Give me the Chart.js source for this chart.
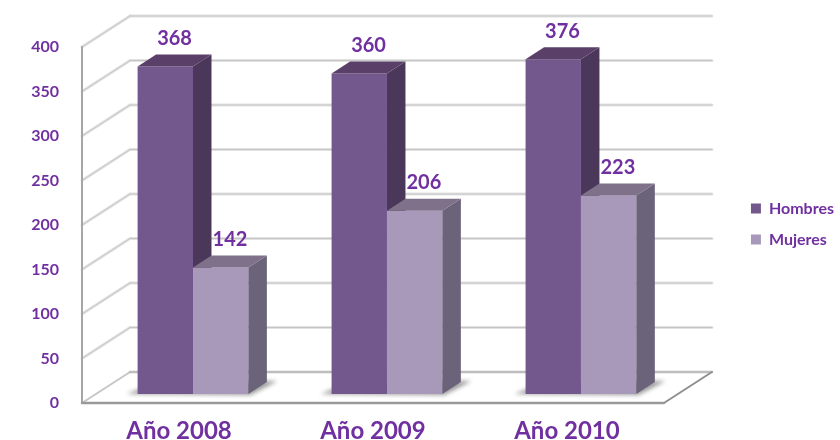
<!DOCTYPE html>
<html>
<head>
<meta charset="utf-8">
<style>html,body{margin:0;padding:0;background:#fff}canvas{display:block}</style>
<script src="https://cdn.jsdelivr.net/npm/chart.js@4/dist/chart.umd.min.js"></script>
</head>
<body>
<canvas id="c" width="840" height="440"></canvas>
<script>
const categories = ['Año 2008', 'Año 2009', 'Año 2010'];
const hombres = [368, 360, 376];
const mujeres = [142, 206, 223];
const FONT = 'Lato, "Open Sans", sans-serif';
const PURPLE = '#7030a0';
const WALL = {dx: 48, dy: -31};
const BAR_SHIFT = {dx: 14, dy: -9};
const BAR_DEPTH = {dx: 18.5, dy: -12};
const FACES = [
  {side: '#4a3759', top: '#5a4069'},
  {side: '#6b6379', top: '#7e7189'}
];
function line(ctx, x1, y1, x2, y2, color, w) {
  ctx.strokeStyle = color; ctx.lineWidth = w;
  ctx.beginPath(); ctx.moveTo(x1, y1); ctx.lineTo(x2, y2); ctx.stroke();
}
function poly(ctx, pts, fill) {
  ctx.fillStyle = fill; ctx.beginPath();
  pts.forEach((p, i) => i ? ctx.lineTo(p[0], p[1]) : ctx.moveTo(p[0], p[1]));
  ctx.closePath(); ctx.fill();
}
const threeD = {
  id: 'threeD',
  afterLayout(chart) {
    chart.legend.left += 4;
  },
  beforeDatasetsDraw(chart) {
    const ctx = chart.ctx, y = chart.scales.y, a = chart.chartArea;
    ctx.save();
    ctx.lineCap = 'round';
    y.ticks.forEach(t => {
      if (t.value === 0) return;
      const p = y.getPixelForValue(t.value);
      for (const [c, w] of [['#e2e2e2', 3], ['#c6c6c6', 1]]) {
        line(ctx, a.left + WALL.dx, p + WALL.dy, a.right + WALL.dx, p + WALL.dy, c, w);
        line(ctx, a.left, p, a.left + WALL.dx, p + WALL.dy, c, w);
      }
    });
    const p0 = y.getPixelForValue(0);
    line(ctx, a.left, p0, a.left + WALL.dx, p0 + WALL.dy, '#c6c6c6', 2);
    line(ctx, a.left + WALL.dx, p0 + WALL.dy, a.right + WALL.dx, p0 + WALL.dy, '#bdbdbd', 2.5);
    line(ctx, a.right, p0, a.right + WALL.dx, p0 + WALL.dy, '#8f8f8f', 2);
    line(ctx, a.left, y.getPixelForValue(400), a.left, p0, '#a6a6a6', 2);
    line(ctx, a.left, p0, a.right, p0, '#999999', 2.5);

    const m0 = chart.getDatasetMeta(0), m1 = chart.getDatasetMeta(1);
    // floor shadow under each pair of bars
    ctx.save();
    ctx.filter = 'blur(2px)';
    m0.data.forEach((b0, i) => {
      const b1 = m1.data[i];
      const L = b0.x - b0.width / 2 + BAR_SHIFT.dx, R = b1.x + b1.width / 2 + BAR_SHIFT.dx;
      const B = b0.base + BAR_SHIFT.dy;
      poly(ctx, [[L - 11, B], [R + 2, B + 1], [R + 29, B + BAR_DEPTH.dy - 1], [L + 20, B + BAR_DEPTH.dy]], '#9a9a9a');
    });
    ctx.restore();

    [m0, m1].forEach((meta, di) => {
      ctx.save();
      ctx.translate(BAR_SHIFT.dx, BAR_SHIFT.dy);
      meta.controller.draw();
      meta.data.forEach(b => {
        const L = b.x - b.width / 2, R = b.x + b.width / 2, T = b.y, B = b.base;
        const dx = BAR_DEPTH.dx, dy = BAR_DEPTH.dy;
        poly(ctx, [[R, T], [R + dx, T + dy], [R + dx, B + dy], [R, B]], FACES[di].side);
        poly(ctx, [[L, T], [L + dx, T + dy], [R + dx, T + dy], [R, T]], FACES[di].top);
      });
      ctx.restore();
    });
    // value labels above the bars
    ctx.font = 'bold 20px ' + FONT;
    ctx.fillStyle = PURPLE;
    ctx.textAlign = 'center';
    ctx.textBaseline = 'middle';
    [m0, m1].forEach((meta, di) => {
      const vals = di ? mujeres : hombres;
      meta.data.forEach((b, i) => {
        ctx.fillText(String(vals[i]), b.x + BAR_SHIFT.dx + BAR_DEPTH.dx / 2, b.y + BAR_SHIFT.dy - 28);
      });
    });
    ctx.restore();
    return false;
  }
};
new Chart(document.getElementById('c'), {
  type: 'bar',
  data: {
    labels: categories,
    datasets: [
      {label: 'Hombres', data: hombres, backgroundColor: '#73588e', borderWidth: 0},
      {label: 'Mujeres', data: mujeres, backgroundColor: '#a899bb', borderWidth: 0}
    ]
  },
  plugins: [threeD],
  options: {
    responsive: false,
    animation: false,
    categoryPercentage: 0.571,
    barPercentage: 1,
    layout: {padding: {top: 8, right: 0, bottom: 0, left: 0}},
    plugins: {
      tooltip: {enabled: false},
      legend: {
        position: 'right',
        labels: {
          color: PURPLE, boxWidth: 10, boxHeight: 10, padding: 15,
          font: {family: FONT, size: 16, weight: 'bold'}
        }
      }
    },
    scales: {
      x: {
        grid: {display: false},
        border: {display: false},
        ticks: {color: PURPLE, padding: 6, maxRotation: 0, font: {family: FONT, size: 24, weight: 'bold'}},
        afterFit: s => { s.height = 37; }
      },
      y: {
        min: 0, max: 400,
        grid: {display: false},
        border: {display: false},
        ticks: {stepSize: 50, color: PURPLE, padding: 15, font: {family: FONT, size: 16, weight: 'bold'}},
        afterFit: s => { s.width = 82; }
      },
      spacer: {
        position: 'right',
        grid: {display: false},
        border: {display: false},
        ticks: {display: false},
        afterFit: s => { s.width = 68; }
      },
      spacerTop: {
        type: 'linear',
        position: 'top',
        grid: {display: false},
        border: {display: false},
        ticks: {display: false},
        afterFit: s => { s.height = 39; }
      }
    }
  }
});
</script>
</body>
</html>
